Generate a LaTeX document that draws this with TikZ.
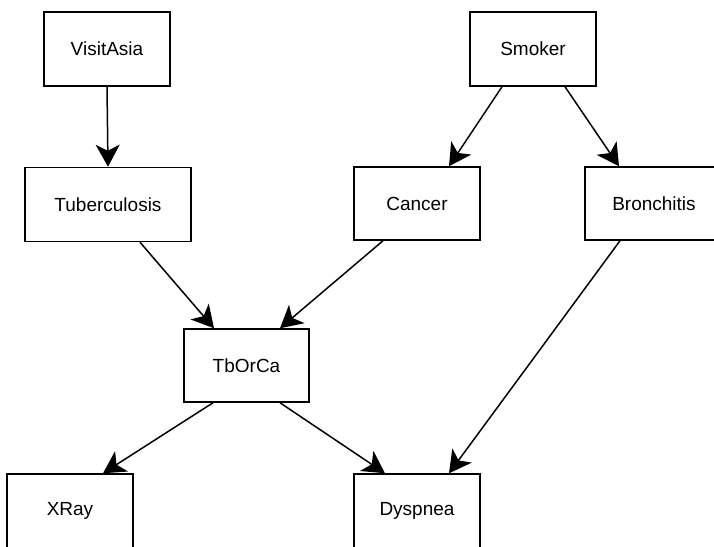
\documentclass[tikz,border=0pt]{standalone}
\usepackage{fontspec}
\setmainfont{Liberation Sans}
\usetikzlibrary{arrows.meta}
\begin{document}
\begin{tikzpicture}[x=1pt,y=-1pt,
  var/.style={draw, line width=1.5pt, minimum width=126pt, minimum height=74pt,
    inner sep=0pt, font=\fontsize{19pt}{21pt}\selectfont},
  arr/.style={line width=1.5pt, -{Stealth[length=22pt,width=24pt,inset=6pt]}}]
\useasboundingbox (0,0) rectangle (714,546);
\clip (0,0) rectangle (714,546);

% variables of the network
\node[var] (visit) at (107,49) {VisitAsia};
\node[var] (smoker) at (533,49) {Smoker};
\node[var, minimum width=166pt] (tub) at (108,204.5) {Tuberculosis};
\node[var, minimum height=73pt] (cancer) at (417,203.5) {Cancer};
\node[var, minimum width=138pt, minimum height=73pt] (bron) at (654,203.5) {Bronchitis};
\node[var, minimum width=125pt, minimum height=73pt] (either) at (246.5,365.5) {TbOrCa};
\node[var] (xray) at (70,511) {XRay};
\node[var] (dysp) at (417,511) {Dyspnea};

% dependencies
\draw[arr] (visit.south) -- (tub.north);
\draw[arr] ([xshift=-31pt]smoker.south) -- ([xshift=32pt]cancer.north);
\draw[arr] ([xshift=32pt]smoker.south) -- ([xshift=-35pt]bron.north);
\draw[arr] ([xshift=32pt]tub.south) -- ([xshift=-32.5pt]either.north);
\draw[arr] ([xshift=-34pt]cancer.south) -- ([xshift=33.5pt]either.north);
\draw[arr] ([xshift=-34pt]bron.south) -- ([xshift=32pt]dysp.north);
\draw[arr] ([xshift=-33.5pt]either.south) -- ([xshift=33pt]xray.north);
\draw[arr] ([xshift=33.5pt]either.south) -- ([xshift=-32pt]dysp.north);
\end{tikzpicture}
\end{document}
